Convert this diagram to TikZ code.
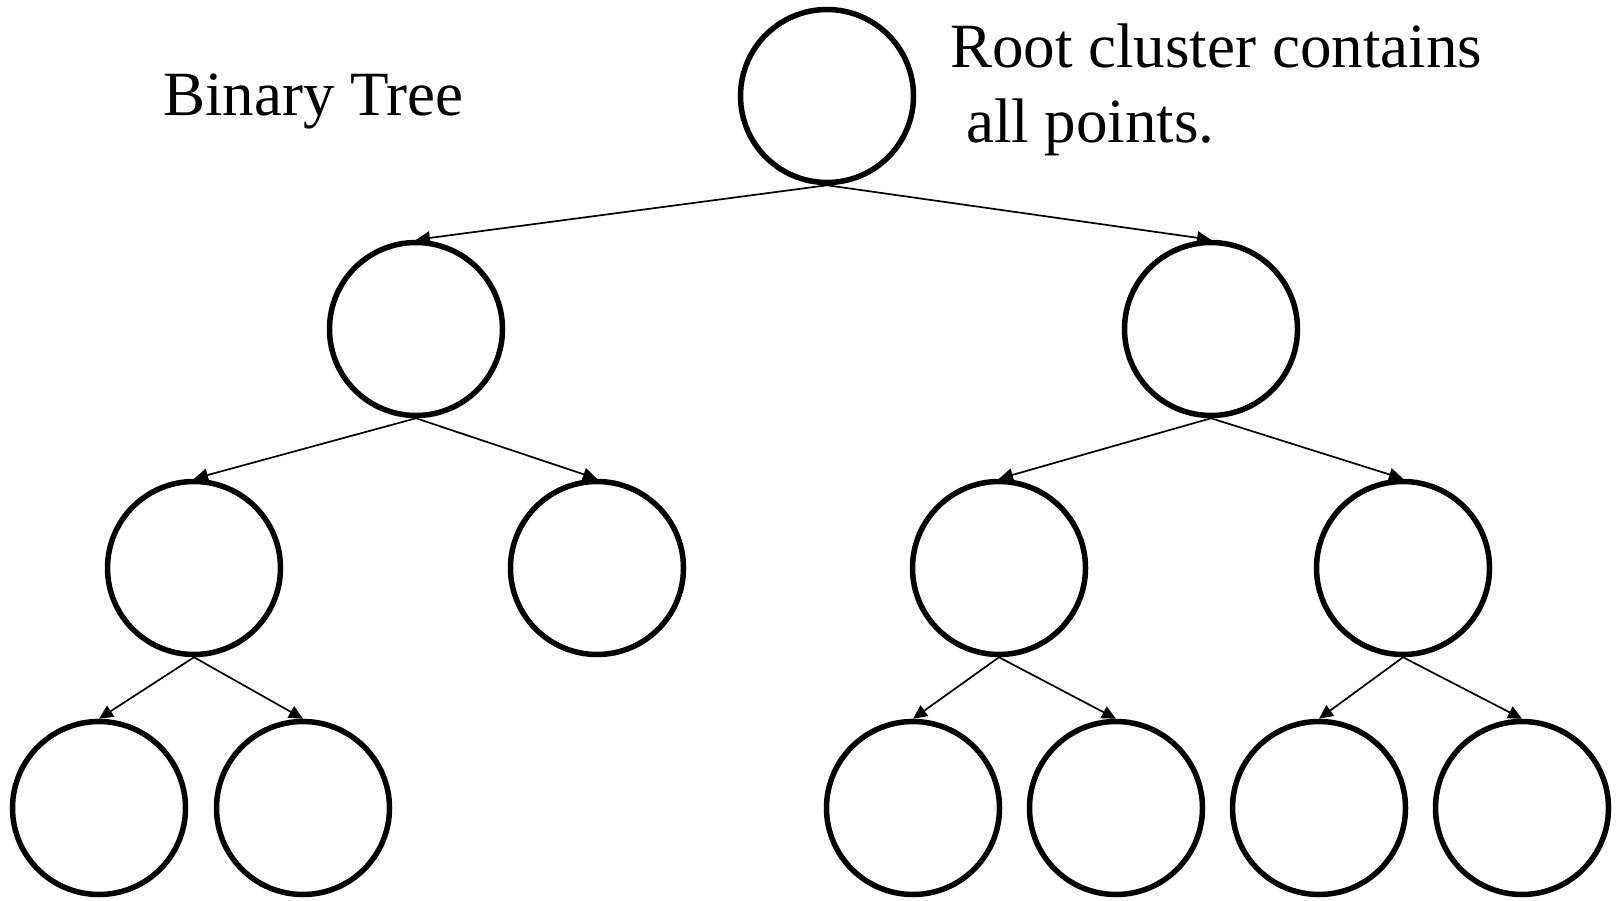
\documentclass[tikz,border=0pt]{standalone}
\usepackage{fontspec}
\setmainfont{Liberation Serif}
\usetikzlibrary{arrows.meta}
\begin{document}
\begin{tikzpicture}[x=1pt,y=-1pt,
  cl/.style={circle,draw,line width=5.5pt,inner sep=0pt,minimum size=173pt},
  edge/.style={line width=1.7pt,-{Triangle[length=14pt,width=13pt]}},
  lbl/.style={font=\fontsize{63}{75}\selectfont,inner sep=0pt,anchor=base west}]
\useasboundingbox (0,0) rectangle (1617,901);
\node[cl] (r) at (827,96) {};
\node[cl] (a) at (416,329) {};
\node[cl] (b) at (1211,329) {};
\node[cl] (aa) at (194,568) {};
\node[cl] (ab) at (597,568) {};
\node[cl] (ba) at (999,568) {};
\node[cl] (bb) at (1403,568) {};
\node[cl] (aaa) at (99,808) {};
\node[cl] (aab) at (303,808) {};
\node[cl] (baa) at (913,808) {};
\node[cl] (bab) at (1116,808) {};
\node[cl] (bba) at (1319,808) {};
\node[cl] (bbb) at (1522,808) {};
\foreach \p/\c in {r/a,r/b,a/aa,a/ab,b/ba,b/bb,aa/aaa,aa/aab,ba/baa,ba/bab,bb/bba,bb/bbb}
  \draw[edge] (\p.south) -- (\c.north);
\node[lbl] (t1) at (163,116) {Binary Tree};
\node[lbl] (t2) at (950,68) {Root cluster contains};
\node[lbl] (t3) at (966,143) {all points.};
\end{tikzpicture}
\end{document}
